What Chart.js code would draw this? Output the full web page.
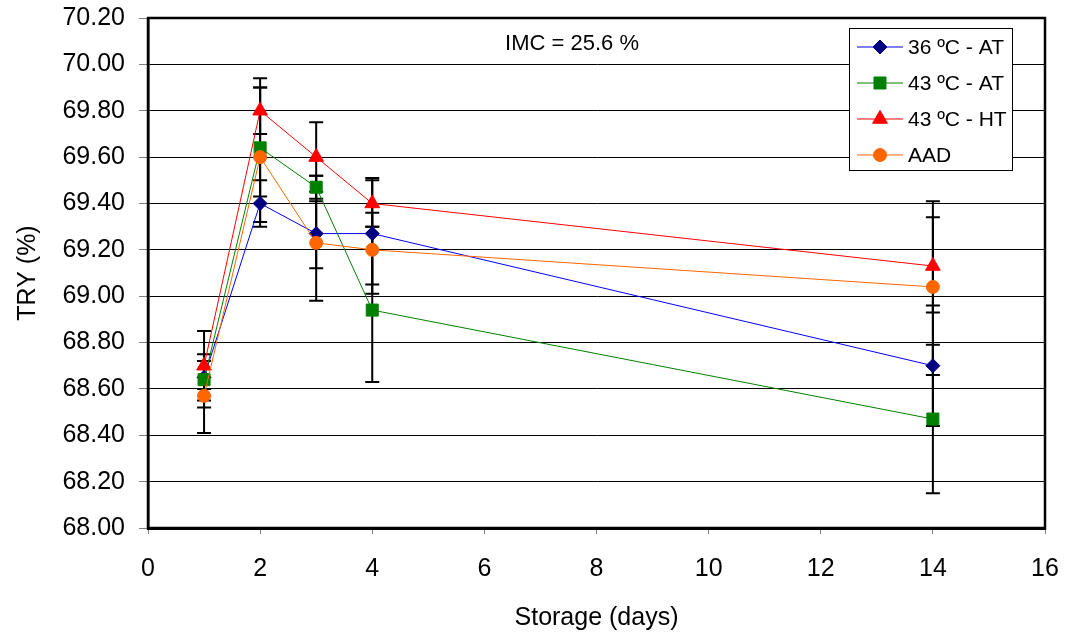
<!DOCTYPE html>
<html>
<head>
<meta charset="utf-8">
<script src="https://cdn.jsdelivr.net/npm/chart.js@4/dist/chart.umd.min.js"></script>
<style>
  html, body { margin: 0; padding: 0; background: #fff; }
  #wrap { width: 1065px; height: 635px; position: relative; }
</style>
</head>
<body>
<div id="wrap"><canvas id="chart"></canvas></div>
<script>
// storage days and TRY (%) per treatment, with error bar ends
const days = [1, 2, 3, 4, 14];

const at36 = [68.65, 69.40, 69.27, 69.27, 68.70];
const at36Hi = [68.72, 69.50, 69.41, 69.50, 68.96];
const at36Lo = [68.60, 69.32, 69.12, 69.05, 68.44];

const at43 = [68.64, 69.64, 69.47, 68.94, 68.47];
const at43Hi = [68.75, 69.90, 69.52, 69.30, 68.79];
const at43Lo = [68.52, 69.43, 69.42, 68.63, 68.15];

const ht43 = [68.70, 69.80, 69.60, 69.40, 69.13];
const ht43Hi = [68.85, 69.94, 69.75, 69.51, 69.41];
const ht43Lo = [68.55, 69.70, 69.45, 69.30, 68.93];

const aad = [68.57, 69.60, 69.23, 69.20, 69.04];
const aadHi = [68.72, 69.90, 69.52, 69.36, 69.34];
const aadLo = [68.41, 69.30, 68.98, 69.01, 68.66];

const labels = ["36 ºC - AT", "43 ºC - AT", "43 ºC - HT", "AAD"];
const note = "IMC = 25.6 %";

const byId = id => document.getElementById(id);
const FONT = "'Liberation Sans', Arial, sans-serif";
Chart.defaults.font.family = FONT;
Chart.defaults.color = "#000";

const toPoints = ys => days.map((d, i) => ({x: d, y: ys[i]}));

function makeSet(label, ys, hi, lo, line, fill, style, radius, order) {
    return {
        label,
        data: toPoints(ys),
        hi, lo,
        showLine: true,
        borderColor: line,
        borderWidth: 1,
        pointStyle: style,
        pointRadius: radius,
        pointHoverRadius: radius,
        pointBackgroundColor: fill,
        pointBorderColor: fill,
        pointBorderWidth: 1,
        order
    };
}

const datasets = [
    makeSet(labels[0], at36, at36Hi, at36Lo, "#0000ff", "#000080", "rectRot", 7, 4),
    makeSet(labels[1], at43, at43Hi, at43Lo, "#008000", "#008000", "rect", 8.5, 3),
    makeSet(labels[2], ht43, ht43Hi, ht43Lo, "#ff0000", "#ff0000", "triangle", 8.5, 2),
    makeSet(labels[3], aad, aadHi, aadLo, "#ff6600", "#ff6600", "circle", 6.5, 1)
];

// error bars go under the markers
const errorBars = {
    id: "errorBars",
    beforeDatasetsDraw(chart) {
        const {ctx, scales: {x, y}} = chart;
        ctx.save();
        ctx.strokeStyle = "#000";
        ctx.lineWidth = 2;
        chart.data.datasets.forEach(ds => {
            ds.data.forEach((p, i) => {
                const px = x.getPixelForValue(p.x);
                const top = y.getPixelForValue(ds.hi[i]);
                const bot = y.getPixelForValue(ds.lo[i]);
                ctx.beginPath();
                ctx.moveTo(px, top); ctx.lineTo(px, bot);
                ctx.moveTo(px - 7, top); ctx.lineTo(px + 7, top);
                ctx.moveTo(px - 7, bot); ctx.lineTo(px + 7, bot);
                ctx.stroke();
            });
        });
        ctx.restore();
    }
};

// frame, note text and boxed legend
const extras = {
    id: "extras",
    afterDraw(chart) {
        const {ctx, chartArea: a} = chart;
        ctx.save();
        ctx.strokeStyle = "#000";
        ctx.lineWidth = 2.5;
        ctx.strokeRect(a.left, a.top, a.right - a.left, a.bottom - a.top);

        ctx.fillStyle = "#000";
        ctx.font = "22px " + FONT;
        ctx.textAlign = "center";
        ctx.textBaseline = "middle";
        ctx.fillText(note, 572, 44);

        const bx = 849, by = 28, bw = 163, bh = 142;
        ctx.fillStyle = "#fff";
        ctx.fillRect(bx, by, bw, bh);
        ctx.lineWidth = 1;
        ctx.strokeStyle = "#000";
        ctx.strokeRect(bx + 0.5, by + 0.5, bw, bh);

        ctx.font = "21px " + FONT;
        ctx.textAlign = "left";
        const rows = [47, 83, 119, 155];
        chart.data.datasets.forEach((ds, i) => {
            const ry = rows[i];
            ctx.strokeStyle = ds.borderColor;
            ctx.lineWidth = 1;
            ctx.beginPath();
            ctx.moveTo(857, ry); ctx.lineTo(903, ry);
            ctx.stroke();
            ctx.fillStyle = ds.pointBackgroundColor;
            ctx.strokeStyle = ds.pointBorderColor;
            Chart.helpers.drawPoint(ctx, {
                pointStyle: ds.pointStyle,
                radius: ds.pointRadius,
                rotation: 0,
                borderWidth: 1
            }, 880, ry);
            ctx.fillStyle = "#000";
            ctx.fillText(ds.label, 908, ry + 1);
        });
        ctx.restore();
    }
};

new Chart(byId("chart"), {
    type: "scatter",
    data: {datasets},
    options: {
        responsive: true,
        maintainAspectRatio: false,
        animation: false,
        layout: {padding: {top: 18, right: 20, left: 0, bottom: 0}},
        plugins: {
            legend: {display: false},
            tooltip: {enabled: false}
        },
        scales: {
            x: {
                type: "linear",
                min: 0,
                max: 16,
                ticks: {stepSize: 2, font: {size: 25}, padding: 20, color: "#000"},
                grid: {drawOnChartArea: false, tickLength: 6, tickColor: "#808080"},
                border: {color: "#000", width: 3},
                title: {display: true, text: "Storage (days)", font: {size: 25}, padding: {top: 0, bottom: 2}},
                afterFit: s => {
                    s.height = 107;
                    s.paddingLeft = 0;
                    s.paddingRight = 0;
                }
            },
            y: {
                min: 68,
                max: 70.2,
                ticks: {
                    stepSize: 0.2,
                    font: {size: 25},
                    padding: 14,
                    color: "#000",
                    callback: v => v.toFixed(2)
                },
                grid: {color: "#000", lineWidth: 1, tickLength: 9, tickColor: "#808080"},
                border: {color: "#000", width: 2.5},
                title: {display: true, text: "TRY (%)", font: {size: 25}, padding: {top: 13, bottom: 0}},
                afterFit: s => {
                    s.width = 148;
                    s.paddingTop = 0;
                    s.paddingBottom = 0;
                }
            }
        }
    },
    plugins: [errorBars, extras]
});
</script>
</body>
</html>
